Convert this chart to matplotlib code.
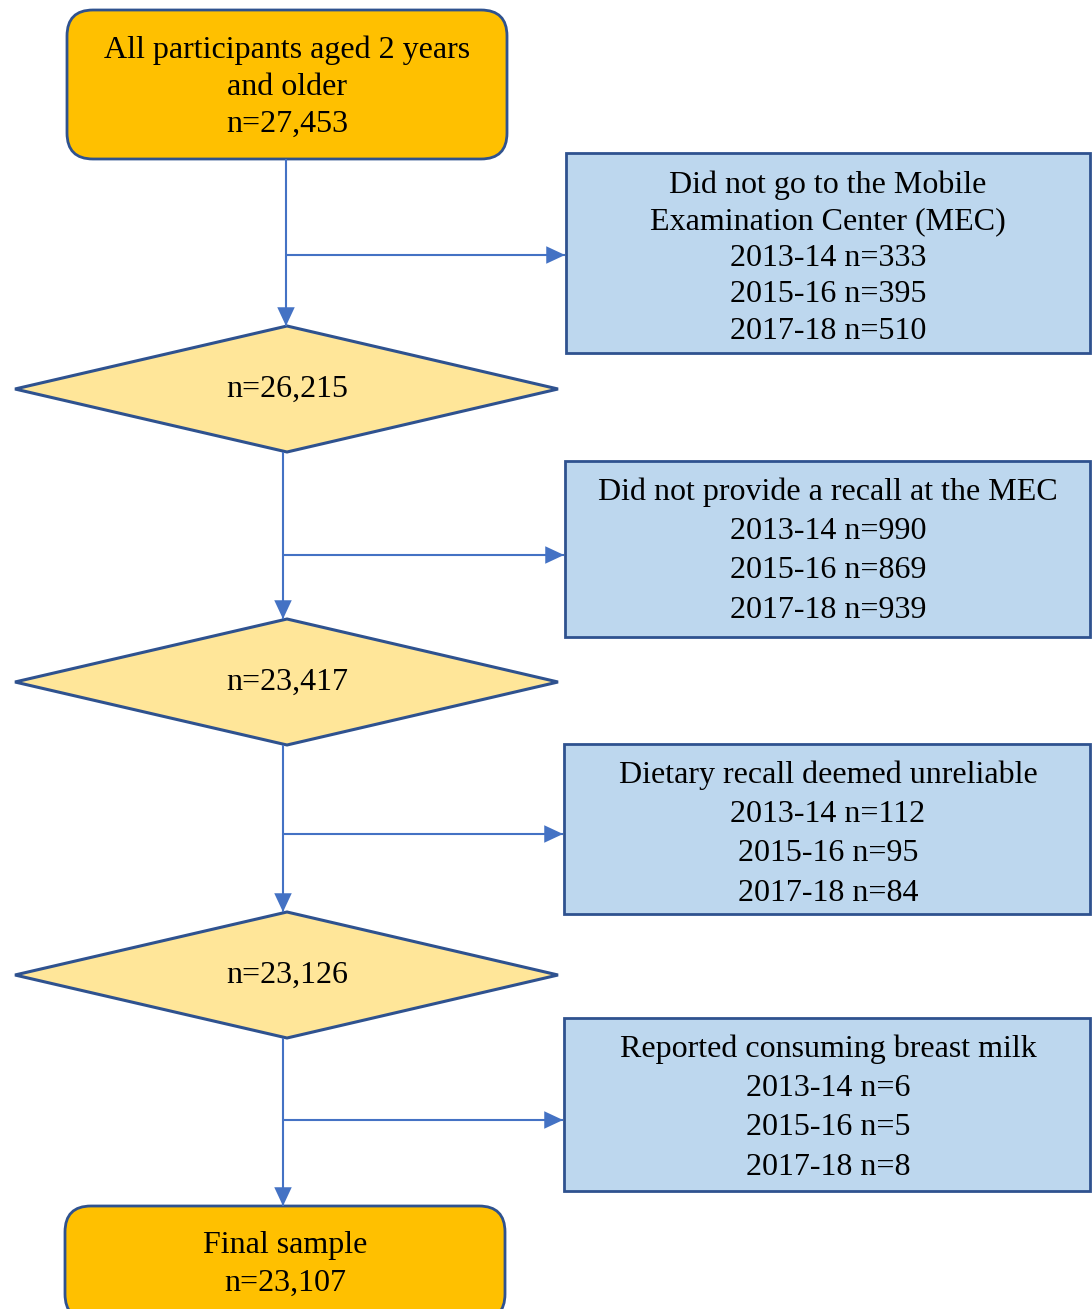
import matplotlib.pyplot as plt
from matplotlib.patches import FancyBboxPatch, Rectangle, Polygon

plt.rcParams['font.family'] = ['Liberation Serif', 'DejaVu Serif']

# texts of the flow
start_text = "All participants aged 2 years\nand older\nn=27,453"
final_text = "Final sample\nn=23,107"
step_counts = ["n=26,215", "n=23,417", "n=23,126"]
excl_titles = [
    "Did not go to the Mobile\nExamination Center (MEC)",
    "Did not provide a recall at the MEC",
    "Dietary recall deemed unreliable",
    "Reported consuming breast milk",
]
cycles = ["2013-14", "2015-16", "2017-18"]
excl_counts = [
    [333, 395, 510],
    [990, 869, 939],
    [112, 95, 84],
    [6, 5, 8],
]

ORANGE = '#FFC000'
LIGHTORANGE = '#FFE699'
BLUEFILL = '#BDD7EE'
EDGE = '#2F528F'
LINE = '#4472C4'
FS = 23

fig = plt.figure(figsize=(10.92, 13.09), dpi=100)
ax = fig.add_axes([0, 0, 1, 1])
ax.set_xlim(0, 1092)
ax.set_ylim(1309, 0)
ax.axis('off')


def rbox(x0, y0, x1, y1, text, ls, ty=None):
    ax.add_patch(FancyBboxPatch((x0, y0), x1 - x0, y1 - y0,
                                boxstyle="round,pad=0,rounding_size=26",
                                fc=ORANGE, ec=EDGE, lw=2))
    if ty is None:
        ty = (y0 + y1) / 2
    ax.text((x0 + x1) / 2, ty, text, ha='center', va='center',
            fontsize=FS, linespacing=ls)


def arrow(x0, y0, x1, y1):
    ax.plot([x0, x1], [y0, y1], color=LINE, lw=1.5, solid_capstyle='butt')
    ax.annotate('', xy=(x1, y1), xytext=(x0, y0),
                arrowprops=dict(arrowstyle='-|>,head_length=0.9,head_width=0.42',
                                color=LINE, lw=0, mutation_scale=15,
                                shrinkA=0, shrinkB=0))


# start box
rbox(67, 10, 507, 159, start_text, 1.36, ty=87)

# excluded boxes and diamonds
boxes = [(566, 153, 1090, 353), (565, 461, 1090, 637),
         (564, 744, 1090, 914), (564, 1018, 1090, 1191)]
spacing = [1.345, 1.47, 1.47, 1.475]
text_cy = [258, 551, 834, 1108]
diam_cy = [389, 682, 975]
branch_y = [255, 555, 834, 1120]
trunk_x = [286, 283, 283, 283]
tops = [159, 452, 745, 1038]
bottoms = [326, 619, 912, 1206]

for i, (x0, y0, x1, y1) in enumerate(boxes):
    ax.add_patch(Rectangle((x0, y0), x1 - x0, y1 - y0, fc=BLUEFILL, ec=EDGE, lw=2))
    lines = [excl_titles[i]] + [f"{c} n={n}" for c, n in zip(cycles, excl_counts[i])]
    ax.text(828, text_cy[i], "\n".join(lines),
            ha='center', va='center', fontsize=FS, linespacing=spacing[i])
    # trunk with arrow to next shape and branch to excluded box
    arrow(trunk_x[i], tops[i], trunk_x[i], bottoms[i])
    arrow(trunk_x[i], branch_y[i], x0 - 1, branch_y[i])

for cy, label in zip(diam_cy, step_counts):
    ax.add_patch(Polygon([(15, cy), (287, cy - 63), (558, cy), (287, cy + 63)],
                         closed=True, fc=LIGHTORANGE, ec=EDGE, lw=2.2))
    ax.text(287, cy, label, ha='center', va='center', fontsize=FS)

# final box, runs off the bottom
rbox(65, 1206, 505, 1320, final_text, 1.40, ty=1264)

fig.savefig('out.png', dpi=100)
